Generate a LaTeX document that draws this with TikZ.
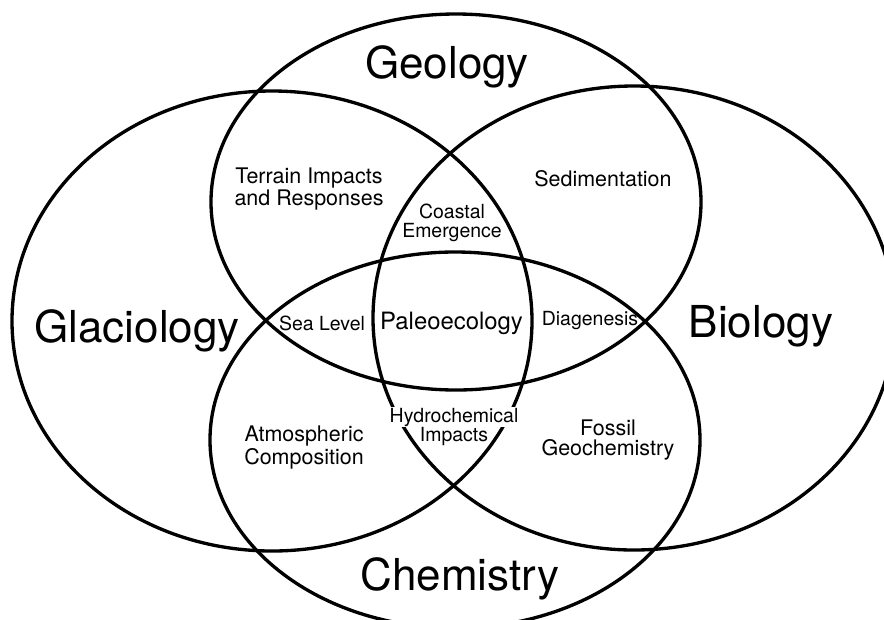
\documentclass[tikz,border=0pt]{standalone}
\usepackage{fontspec}
\setmainfont{TeX Gyre Heros}
\usepackage{tikz}
\tikzset{
  field/.style={line width=2.5pt},
  bigname/.style={font=\fontsize{33}{36}\selectfont, anchor=base, inner sep=0pt},
  arealbl/.style={font=\fontsize{16.1}{14.6}\selectfont, align=center, inner sep=0pt},
  meetlbl/.style={font=\fontsize{14.6}{14.6}\selectfont, align=center, inner sep=0pt},
}
\setlength{\fboxsep}{0.5pt}

\begin{document}
\begin{tikzpicture}[x=0.75pt,y=0.75pt,yscale=-1,xscale=1]
\useasboundingbox (0,0) rectangle (884,619);
\clip (0,0) rectangle (884,619);

\draw [field] (456,202) ellipse [x radius=245, y radius=188];
\draw [field] (455,440) ellipse [x radius=245, y radius=188];
\draw [field] (272,321) ellipse [x radius=260, y radius=230];
\draw [field] (634,318) ellipse [x radius=261, y radius=232];

\draw (447,78) node (geology) [bigname] {Geology};
\draw (137,342) node (glaciology) [bigname] {Glaciology};
\draw (761,337) node (biology) [bigname] {Biology};
\draw (460,590) node (chemistry) [bigname] {Chemistry};

\draw (309,189) node (terrain) [arealbl] {Terrain Impacts\\and Responses};
\draw (603,186) node (sediment) [arealbl, anchor=base] {Sedimentation};
\draw (304,447.5) node (atmos) [arealbl] {Atmospheric\\Composition};
\draw (608,440) node (fossil) [arealbl] {Fossil\\Geochemistry};

\draw (452,223) node (coastal) [meetlbl] {Coastal\\Emergence};
\draw (322,330) node (sealevel) [meetlbl, anchor=base] {Sea Level};
\draw (590,325) node (diagenesis) [meetlbl, anchor=base] {Diagenesis};
\draw (454,426.5) node (hydro) [meetlbl] {\colorbox{white}{Hydrochemical}\\Impacts};
\draw (451.5,329) node (paleo) [font=\fontsize{17.9}{18}\selectfont, anchor=base, inner sep=0pt] {Paleoecology};

\end{tikzpicture}
\end{document}
